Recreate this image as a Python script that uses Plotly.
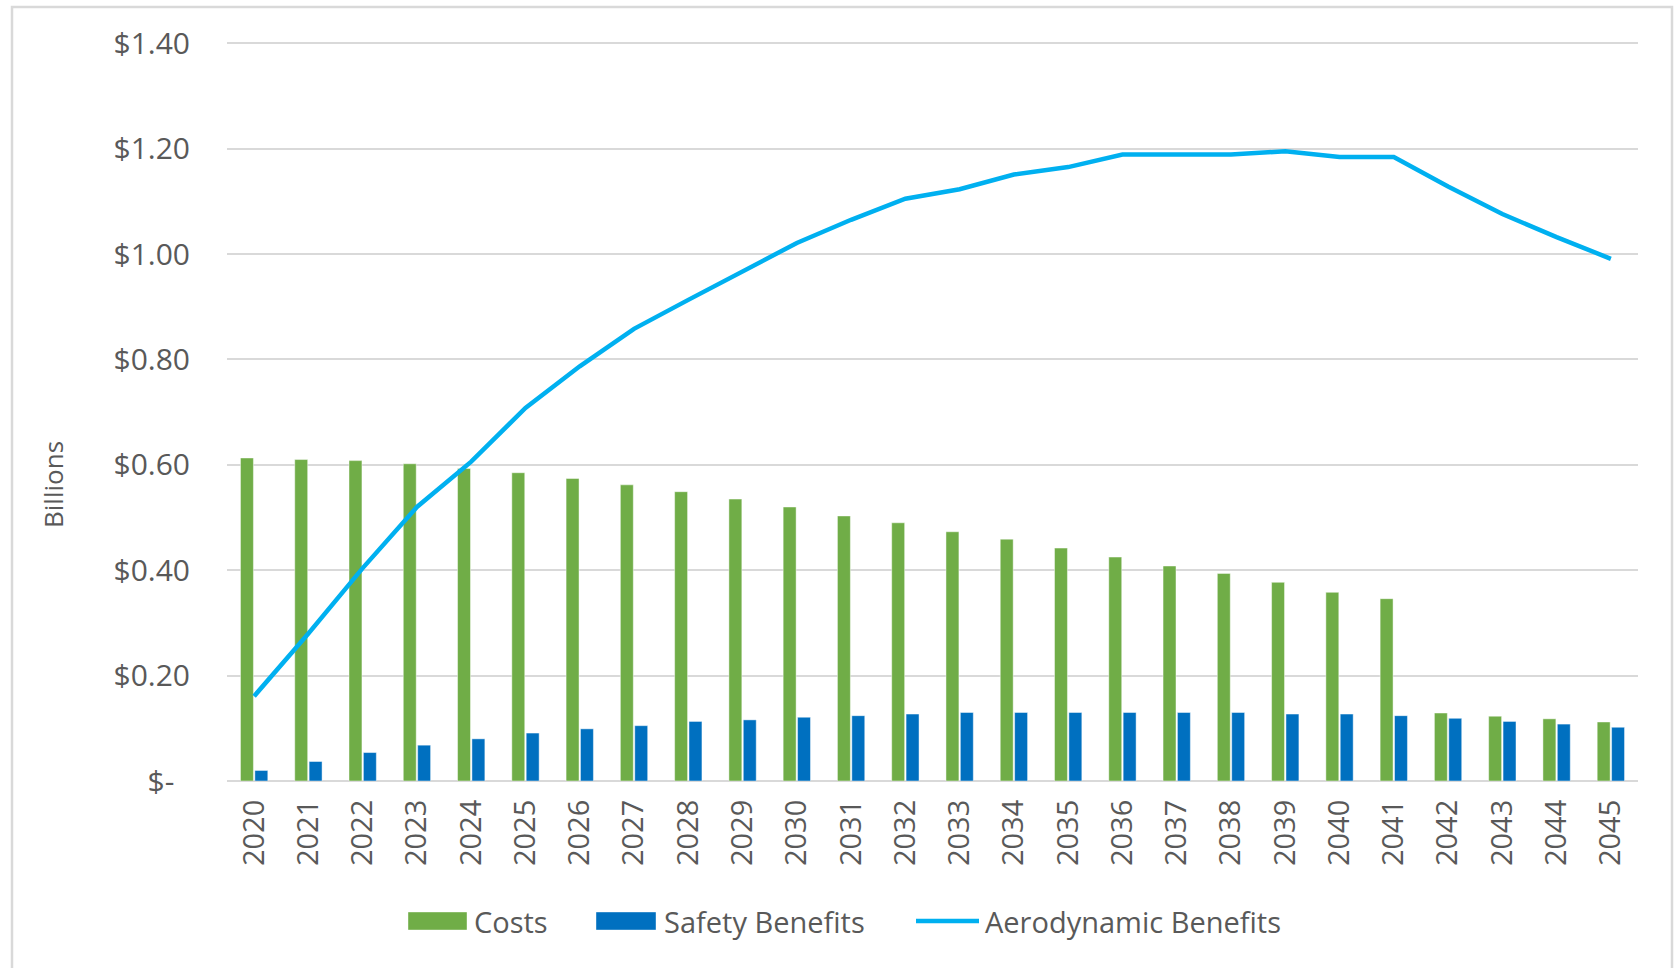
import plotly.graph_objects as go

# ---- data -------------------------------------------------------------
years = [str(y) for y in range(2020, 2046)]

costs = [0.613, 0.610, 0.608, 0.602, 0.593, 0.585, 0.574, 0.562, 0.549, 0.535,
         0.520, 0.503, 0.490, 0.473, 0.459, 0.442, 0.425, 0.408, 0.394, 0.377,
         0.358, 0.346, 0.129, 0.123, 0.118, 0.112]

safety_benefits = [0.020, 0.037, 0.054, 0.068, 0.080, 0.091, 0.099, 0.105, 0.113, 0.116,
                   0.121, 0.124, 0.127, 0.130, 0.130, 0.130, 0.130, 0.130, 0.130, 0.127,
                   0.127, 0.124, 0.119, 0.113, 0.108, 0.102]

aero_benefits = [0.161, 0.280, 0.404, 0.520, 0.606, 0.708, 0.787, 0.858, 0.913, 0.967,
                 1.021, 1.065, 1.105, 1.123, 1.151, 1.165, 1.189, 1.189, 1.189, 1.195,
                 1.184, 1.184, 1.128, 1.076, 1.032, 0.991]

y_tick_vals = [0, 0.2, 0.4, 0.6, 0.8, 1.0, 1.2, 1.4]
y_tick_text = ["$-\u00a0\u00a0", "$0.20", "$0.40", "$0.60", "$0.80", "$1.00", "$1.20", "$1.40"]

series_names = ["Costs", "Safety Benefits", "Aerodynamic Benefits"]

# ---- style ------------------------------------------------------------
GREEN = "#70AD47"
BLUE = "#0070C0"
CYAN = "#00B0F0"
TEXT = "#595959"
GRID = "#D9D9D9"
FONT = "Open Sans"

W, H = 1680, 968
ML, MR, MT, MB = 227, 42, 38, 187
PW, PH = W - ML - MR, H - MT - MB


def px_x(px):
    """Pixel column -> paper x."""
    return (px - ML) / PW


def px_y(py):
    """Pixel row -> paper y."""
    return (H - MB - py) / PH


fig = go.Figure()

fig.add_trace(go.Bar(
    x=years, y=costs, name=series_names[0],
    marker=dict(color=GREEN, line=dict(color="rgba(255,255,255,0.45)", width=1)),
    showlegend=False,
))
fig.add_trace(go.Bar(
    x=years, y=safety_benefits, name=series_names[1],
    marker=dict(color=BLUE, line=dict(color="rgba(255,255,255,0.45)", width=1)),
    showlegend=False,
))
fig.add_trace(go.Scatter(
    x=years, y=aero_benefits, name=series_names[2], mode="lines",
    line=dict(color=CYAN, width=4.5),
    showlegend=False,
))

# ---- legend row (drawn as swatches + labels) -----------------------------
shapes = []
annotations = []
leg_y = 921
swatches = [
    ("bar", GREEN, 408, 467, 472, series_names[0]),
    ("bar", BLUE, 596, 656, 662, series_names[1]),
    ("line", CYAN, 916, 979, 983, series_names[2]),
]
for kind, color, x0, x1, tx, label in swatches:
    if kind == "bar":
        shapes.append(dict(type="rect", xref="paper", yref="paper",
                           x0=px_x(x0), x1=px_x(x1), y0=px_y(leg_y + 9), y1=px_y(leg_y - 9),
                           fillcolor=color, line=dict(color="rgba(255,255,255,0.4)", width=1)))
    else:
        shapes.append(dict(type="line", xref="paper", yref="paper",
                           x0=px_x(x0), x1=px_x(x1), y0=px_y(leg_y), y1=px_y(leg_y),
                           line=dict(color=color, width=4.5)))
    annotations.append(dict(text=label, xref="paper", yref="paper",
                            x=px_x(tx), y=px_y(leg_y), xanchor="left", yanchor="middle",
                            showarrow=False, font=dict(family=FONT, size=29, color=TEXT)))

# axis title
annotations.append(dict(text="Billions", xref="paper", yref="paper",
                        x=px_x(53), y=px_y(485), xanchor="center", yanchor="middle",
                        textangle=-90, showarrow=False,
                        font=dict(family=FONT, size=26, color=TEXT)))

# chart frame
shapes.append(dict(type="rect", xref="paper", yref="paper",
                   x0=px_x(12), x1=px_x(1672), y0=px_y(990), y1=px_y(7),
                   line=dict(color=GRID, width=2.5), fillcolor="rgba(0,0,0,0)", layer="below"))

fig.update_layout(
    width=W, height=H,
    margin=dict(l=ML, r=MR, t=MT, b=MB),
    paper_bgcolor="white", plot_bgcolor="white",
    barmode="group", bargap=0.47, bargroupgap=0.1,
    font=dict(family=FONT, size=29, color=TEXT),
    shapes=shapes, annotations=annotations,
    showlegend=False,
    xaxis=dict(
        type="category", tickangle=-90, showgrid=False, ticks="",
        showline=False, ticklabelstandoff=12,
        tickfont=dict(family=FONT, size=29, color=TEXT),
    ),
    yaxis=dict(
        range=[0, 1.41], tickvals=y_tick_vals, ticktext=y_tick_text,
        showgrid=True, gridcolor=GRID, gridwidth=1.5,
        zeroline=True, zerolinecolor=GRID, zerolinewidth=1.5,
        showline=False, ticks="", ticklabelstandoff=36,
        tickfont=dict(family=FONT, size=30, color=TEXT),
    ),
)

fig.write_html("out.html")
